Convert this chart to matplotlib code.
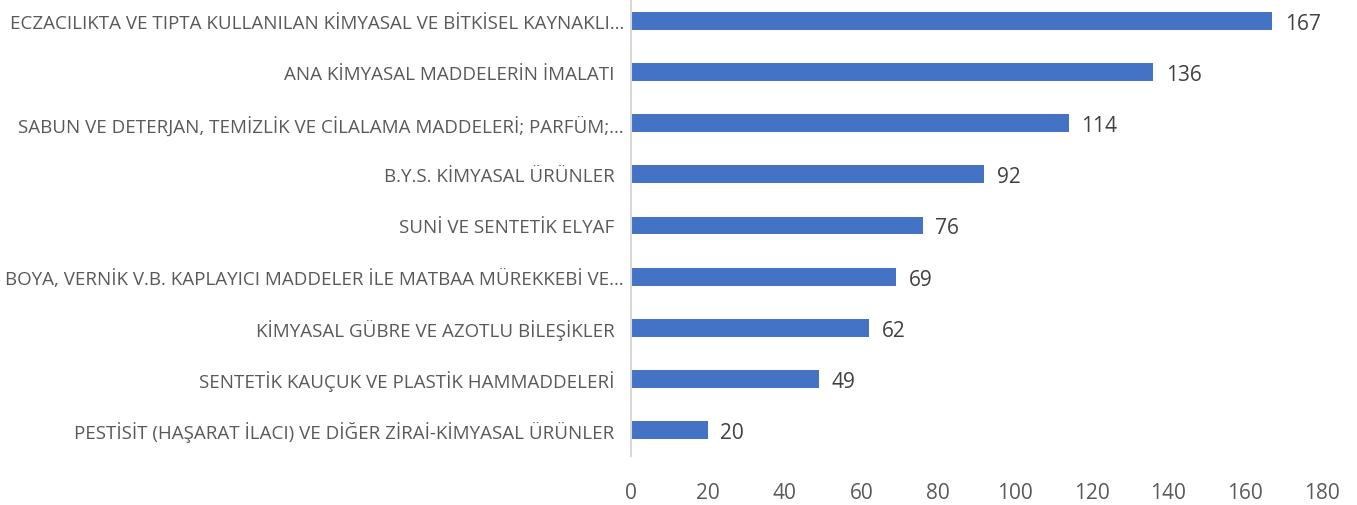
import matplotlib.pyplot as plt
from matplotlib import font_manager

categories = [
    "ECZACILIKTA VE TIPTA KULLANILAN KİMYASAL VE BİTKİSEL KAYNAKLI…",
    "ANA KİMYASAL MADDELERİN İMALATI  ",
    "SABUN VE DETERJAN, TEMİZLİK VE CİLALAMA MADDELERİ; PARFÜM;…",
    "B.Y.S. KİMYASAL ÜRÜNLER  ",
    "SUNİ VE SENTETİK ELYAF  ",
    "BOYA, VERNİK V.B. KAPLAYICI MADDELER İLE MATBAA MÜREKKEBİ VE…",
    "KİMYASAL GÜBRE VE AZOTLU BİLEŞİKLER  ",
    "SENTETİK KAUÇUK VE PLASTİK HAMMADDELERİ  ",
    "PESTİSİT (HAŞARAT İLACI) VE DİĞER ZİRAİ-KİMYASAL ÜRÜNLER  ",
]
values = [167, 136, 114, 92, 76, 69, 62, 49, 20]
xticks = [0, 20, 40, 60, 80, 100, 120, 140, 160, 180]

names = {f.name for f in font_manager.fontManager.ttflist}
font = "Liberation Sans Narrow" if "Liberation Sans Narrow" in names else "Open Sans"
plt.rcParams['font.family'] = [font, 'DejaVu Sans']

fig = plt.figure(figsize=(13.57, 5.06), dpi=100)
ax = fig.add_axes([631 / 1357, 1 - 457 / 506, (1322 - 631) / 1357, 457 / 506])

pos = list(range(len(categories)))
ax.barh(pos, values, height=0.35, color="#4472C4")
for p, v in zip(pos, values):
    ax.text(v + 3.3, p, str(v), va="center_baseline", ha="left", fontsize=15, color="#404040")

ax.set_xlim(0, 180)
ax.set_ylim(8.51, -0.43)
ax.set_yticks(pos)
ax.set_yticklabels(categories, fontsize=13.5, color="#595959")
ax.set_xticks(xticks)
ax.set_xticklabels([str(t) for t in xticks], fontsize=15, color="#595959")
ax.tick_params(axis="both", length=0)
ax.tick_params(axis="y", pad=5)
ax.tick_params(axis="x", pad=19)

for s in ["top", "right", "bottom"]:
    ax.spines[s].set_visible(False)
ax.spines["left"].set_color("#D9D9D9")
ax.spines["left"].set_linewidth(1.5)

fig.savefig("out.png", dpi=100)
